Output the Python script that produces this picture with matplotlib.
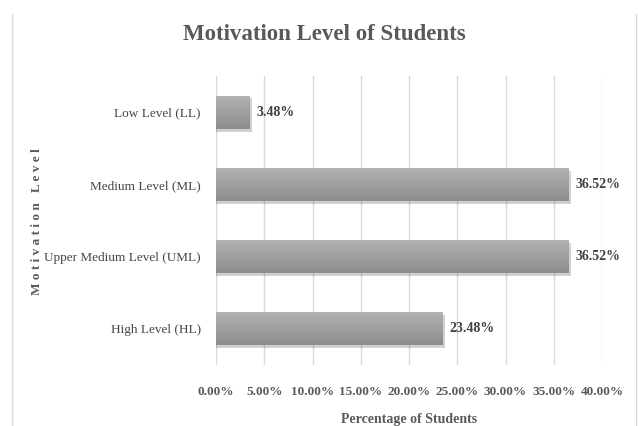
import numpy as np
import matplotlib
matplotlib.use("Agg")
import matplotlib.pyplot as plt
from matplotlib.lines import Line2D
from matplotlib.ticker import FuncFormatter

levels = ["High Level (HL)", "Upper Medium Level (UML)", "Medium Level (ML)", "Low Level (LL)"]
percent = [23.48, 36.52, 36.52, 3.48]
ticks = [0, 5, 10, 15, 20, 25, 30, 35, 40]

txt = "#595959"
plt.rcParams['font.family'] = ['Liberation Serif', 'DejaVu Serif']

fig = plt.figure(figsize=(6.38, 4.26), dpi=100)
ax = fig.add_axes([216/638, 1-365/426, 386/638, 289/426])

y = np.arange(len(levels))
h = 0.46
# shadow first, then bars
ax.barh(y - 0.04, np.array(percent) + 0.25, height=h, color="#000000", alpha=0.18, zorder=2)
bars = ax.barh(y, percent, height=h, color="#a0a0a0", zorder=3)

cm = matplotlib.colors.LinearSegmentedColormap.from_list("g", ["#8c8c8c", "#b3b3b3"])
grad = np.linspace(0, 1, 64).reshape(-1, 1)
for b, v in zip(bars, percent):
    yb = b.get_y()
    im = ax.imshow(grad, cmap=cm, extent=(0, v, yb, yb + h), aspect="auto",
                   origin="lower", zorder=4, interpolation="bilinear")
    im.set_clip_path(b)
    ax.text(v + 0.7, yb + h/2, f"{v:.2f}%", va="center", ha="left",
            fontsize=10, fontweight="bold", color="#404040", zorder=5)

ax.set_xlim(0, 40)
ax.set_ylim(-0.5, 3.5)
ax.set_xticks(ticks)
ax.xaxis.set_major_formatter(FuncFormatter(lambda v, p: f"{v:.2f}%"))
ax.set_yticks(y)
ax.set_yticklabels(levels)
ax.grid(axis="x", color="#d9d9d9", lw=1, zorder=0)
ax.set_axisbelow(True)
for s in ax.spines.values():
    s.set_visible(False)
ax.tick_params(length=0, colors=txt)
ax.tick_params(axis="x", pad=15, labelsize=9.5)
ax.tick_params(axis="y", pad=11, labelsize=9.5, labelcolor="#454545")
for lab in ax.get_xticklabels():
    lab.set_fontweight("bold")

ax.set_xlabel("Percentage of Students", fontsize=10, fontweight="bold", color=txt, labelpad=11)
fig.text(37/638, 1-222/426, "M o t i v a t i o n   L e v e l", rotation=90, ha="center", va="center",
         fontsize=9.5, fontweight="bold", color=txt)
fig.text(324/638, 1-35/426, "Motivation Level of Students", ha="center", va="center",
         fontsize=16.5, fontweight="bold", color=txt)

# chart area frame
fig.add_artist(Line2D([12/638, 12/638], [0, 1-14/426], color="#d9d9d9", lw=1))
fig.add_artist(Line2D([636/638, 636/638], [0, 1-14/426], color="#d9d9d9", lw=1))

fig.savefig("out.png", dpi=100)
